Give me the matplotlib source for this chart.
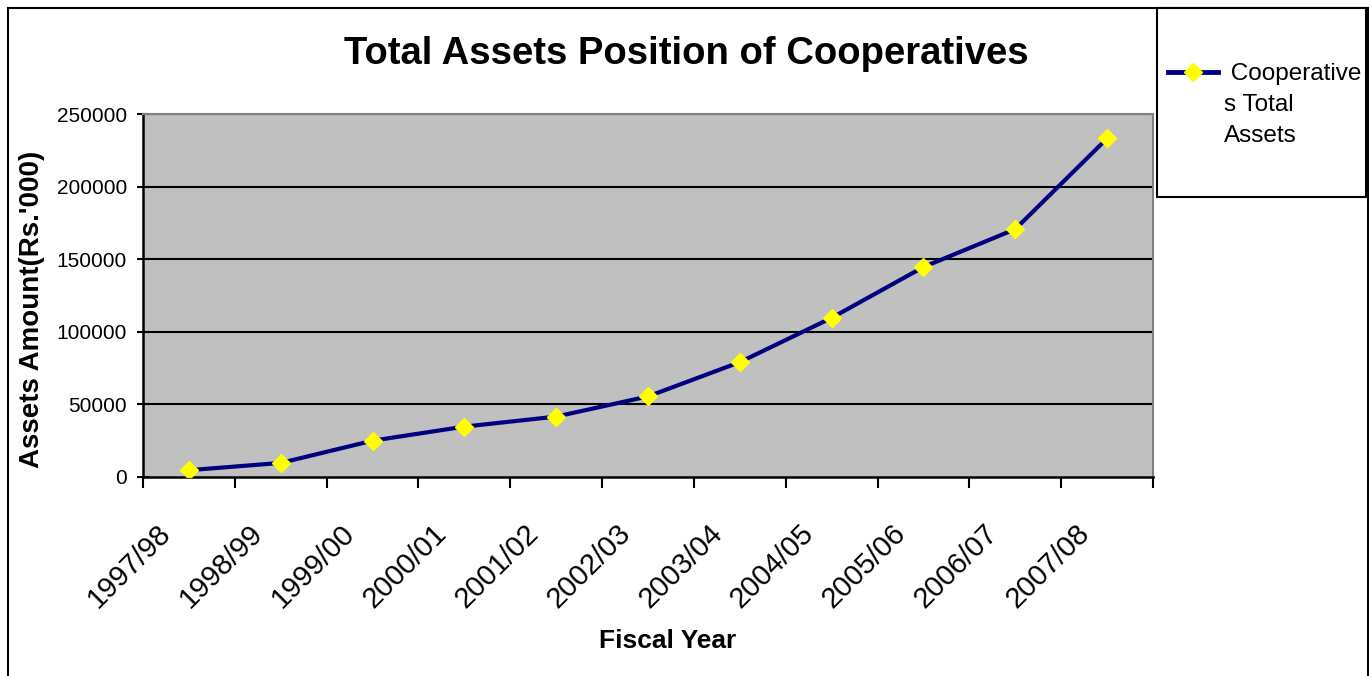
import matplotlib
matplotlib.use('Agg')
import matplotlib.pyplot as plt
from matplotlib.patches import Rectangle
from matplotlib.lines import Line2D
from matplotlib.transforms import ScaledTranslation
import numpy as np

plt.rcParams['font.family'] = ['Liberation Sans', 'DejaVu Sans']

anos = ['1997/98', '1998/99', '1999/00', '2000/01', '2001/02', '2002/03',
        '2003/04', '2004/05', '2005/06', '2006/07', '2007/08']
ativos_totais = [4700, 9700, 25000, 34700, 41600, 55500,
                 79100, 109600, 144600, 170700, 233200]
marcas_y = [0, 50000, 100000, 150000, 200000, 250000]
rotulo_serie = " Cooperative\ns Total\nAssets"

W, H = 1369, 676
fig = plt.figure(figsize=(W / 100, H / 100), dpi=100)

# area do grafico em pixels da referencia
x0, x1, y0, y1 = 143, 1153, 114, 477
ax = fig.add_axes([x0 / W, 1 - y1 / H, (x1 - x0) / W, (y1 - y0) / H])
ax.set_facecolor('#C0C0C0')

pos = np.arange(len(anos))
ax.plot(pos, ativos_totais, color='#000080', linewidth=3, marker='D',
        markersize=9, markerfacecolor='#FFFF00', markeredgecolor='#FFFF00',
        zorder=3)

ax.set_xlim(-0.5, len(anos) - 0.5)
ax.set_ylim(0, 250000)
ax.set_yticks(marcas_y)
ax.set_yticklabels([str(v) for v in marcas_y], fontsize=15)
for v in marcas_y[1:]:
    ax.axhline(v, color='black', linewidth=1.5, zorder=1)

ax.set_xticks(np.arange(len(anos) + 1) - 0.5)
ax.set_xticklabels([])
ax.set_xticks(pos, minor=True)
ax.set_xticklabels(anos, minor=True, rotation=45, ha='right', va='center',
                   rotation_mode='anchor', fontsize=21)
ax.tick_params(axis='x', which='major', direction='out', length=8, width=1.5)
ax.tick_params(axis='x', which='minor', length=0, pad=0)
ax.tick_params(axis='y', direction='inout', length=9, width=1.5, pad=7)
desloc = ScaledTranslation(-0.22, -0.52, fig.dpi_scale_trans)
for rot in ax.get_xticklabels(minor=True):
    rot.set_transform(rot.get_transform() + desloc)

for lado in ['top', 'right']:
    ax.spines[lado].set_color('#808080')
    ax.spines[lado].set_linewidth(1.5)
for lado in ['left', 'bottom']:
    ax.spines[lado].set_color('black')
    ax.spines[lado].set_linewidth(1.8)

fig.text(686 / W, 1 - 54 / H, 'Total Assets Position of Cooperatives',
         ha='center', va='center', fontsize=27.5, fontweight='bold')
fig.text(668 / W, 1 - 641 / H, 'Fiscal Year', ha='center', va='center',
         fontsize=19, fontweight='bold')
fig.text(32 / W, 1 - 309 / H, "Assets Amount(Rs.'000)", ha='center',
         va='center', rotation=90, fontsize=20, fontweight='bold')

# borda externa
fig.add_artist(Rectangle((8 / W, -0.05), 1360 / W, 1 - 8 / H + 0.05,
                         transform=fig.transFigure, fill=False,
                         edgecolor='black', linewidth=1.5))

# legenda desenhada a mao
fig.add_artist(Rectangle((1157 / W, 1 - 197 / H), 209 / W, 189 / H,
                         transform=fig.transFigure, facecolor='white',
                         edgecolor='black', linewidth=1.5))
fig.add_artist(Line2D([1168 / W, 1218 / W], [1 - 72 / H, 1 - 72 / H],
                      transform=fig.transFigure, color='#000080',
                      linewidth=3.5))
fig.add_artist(Line2D([1193 / W], [1 - 72 / H], transform=fig.transFigure,
                      marker='D', markersize=9, markerfacecolor='#FFFF00',
                      markeredgecolor='#FFFF00', linestyle='none'))
fig.text(1224 / W, 1 - 105 / H, rotulo_serie, ha='left', va='center',
         fontsize=17.5, linespacing=1.55)

fig.savefig('out.png', dpi=100)
